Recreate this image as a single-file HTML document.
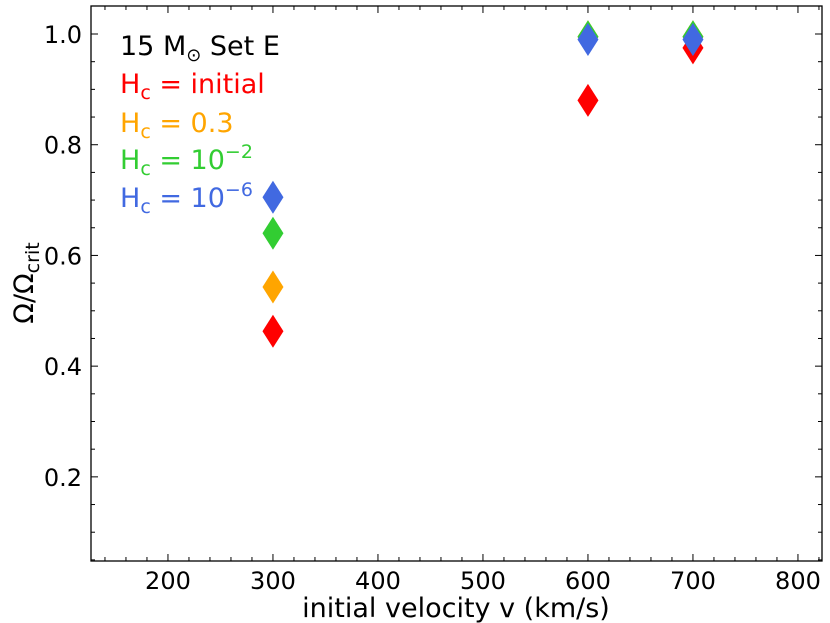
<!DOCTYPE html>
<html><head><meta charset="utf-8"><style>
body{margin:0;background:#fff;}
svg{display:block;font-family:"DejaVu Sans","Liberation Sans",sans-serif;}
</style></head><body>
<svg id="chart" width="830" height="623">
<rect x="0" y="0" width="830" height="623" fill="#fff"/>
<g id="marks"></g>
<g id="axes"></g>
<g font-size="27">
<text x="120" y="55" fill="#000">15 M<tspan font-size="18" dy="6">⊙</tspan><tspan dy="-6"> Set E</tspan></text>
<text x="120" y="93" fill="#ff0000">H<tspan font-size="19" dy="6">c</tspan><tspan dy="-6"> = initial</tspan></text>
<text x="120" y="132" fill="#ffa500">H<tspan font-size="19" dy="6">c</tspan><tspan dy="-6"> = 0.3</tspan></text>
<text x="120" y="169" fill="#32cd32">H<tspan font-size="19" dy="6">c</tspan><tspan dy="-6"> = 10</tspan><tspan font-size="19" dy="-11">−2</tspan></text>
<text x="120" y="207" fill="#4169e1">H<tspan font-size="19" dy="6">c</tspan><tspan dy="-6"> = 10</tspan><tspan font-size="19" dy="-11">−6</tspan></text>
</g>
<text x="456" y="617" font-size="27" text-anchor="middle">initial velocity v (km/s)</text>
<text transform="translate(33,283) rotate(-90)" font-size="27" text-anchor="middle">Ω/Ω<tspan font-size="19" dy="6">crit</tspan></text>
</svg>
<script>
const velocities=[300,600,700];
const seriesNames=['initial','0.3','1e-2','1e-6'];
const seriesColors=['#ff0000','#ffa500','#32cd32','#4169e1'];
const valInitial=[0.463,0.880,0.975];
const val03=[0.543,0.995,0.995];
const val1e2=[0.640,0.995,0.995];
const val1e6=[0.705,0.990,0.990];
const xTicks=[200,300,400,500,600,700,800];
const yTicks=[0.2,0.4,0.6,0.8,1.0];
const L=91,R=822,T=6,B=561;
const xMin=126.7,xMax=822.9,yMin=0.048,yMax=1.0506;
function xs(v){return L+(v-xMin)/(xMax-xMin)*(R-L);}
function ys(v){return B-(v-yMin)/(yMax-yMin)*(B-T);}
const NS='http://www.w3.org/2000/svg';
const marks=document.getElementById('marks');
const all=[valInitial,val03,val1e2,val1e6];
all.forEach((vals,si)=>{vals.forEach((v,i)=>{
const p=document.createElementNS(NS,'path');
const cx=xs(velocities[i]),cy=ys(v);
p.setAttribute('d',`M${cx},${cy-16.5}L${cx+10.5},${cy}L${cx},${cy+16.5}L${cx-10.5},${cy}Z`);
p.setAttribute('fill',seriesColors[si]);


marks.appendChild(p);});});
const ax=document.getElementById('axes');
let s=`<rect x="${L}" y="${T}" width="${R-L}" height="${B-T}" fill="none" stroke="#000" stroke-width="1.3"/>`;
for(let v=140;v<=820;v+=20){const x=xs(v);const major=v%100===0;const len=major?7:4;
s+=`<line x1="${x}" y1="${B}" x2="${x}" y2="${B-len}" stroke="#000"/><line x1="${x}" y1="${T}" x2="${x}" y2="${T+len}" stroke="#000"/>`;}
for(let k=1;k<=20;k++){const v=k*0.05;if(v<yMin||v>yMax)continue;const y=ys(v);const major=k%4===0;const len=major?7:4;
s+=`<line x1="${L}" y1="${y}" x2="${L+len}" y2="${y}" stroke="#000"/><line x1="${R}" y1="${y}" x2="${R-len}" y2="${y}" stroke="#000"/>`;}
ax.innerHTML=s;
xTicks.forEach(v=>{const t=document.createElementNS(NS,'text');t.setAttribute('x',xs(v));t.setAttribute('y',589);t.setAttribute('font-size','24');t.setAttribute('text-anchor','middle');t.textContent=v;


ax.appendChild(t);});
yTicks.forEach(v=>{const t=document.createElementNS(NS,'text');t.setAttribute('x',82);t.setAttribute('y',ys(v)+9);t.setAttribute('font-size','24');t.setAttribute('text-anchor','end');t.textContent=v.toFixed(1);


ax.appendChild(t);});
</script>
</body></html>
